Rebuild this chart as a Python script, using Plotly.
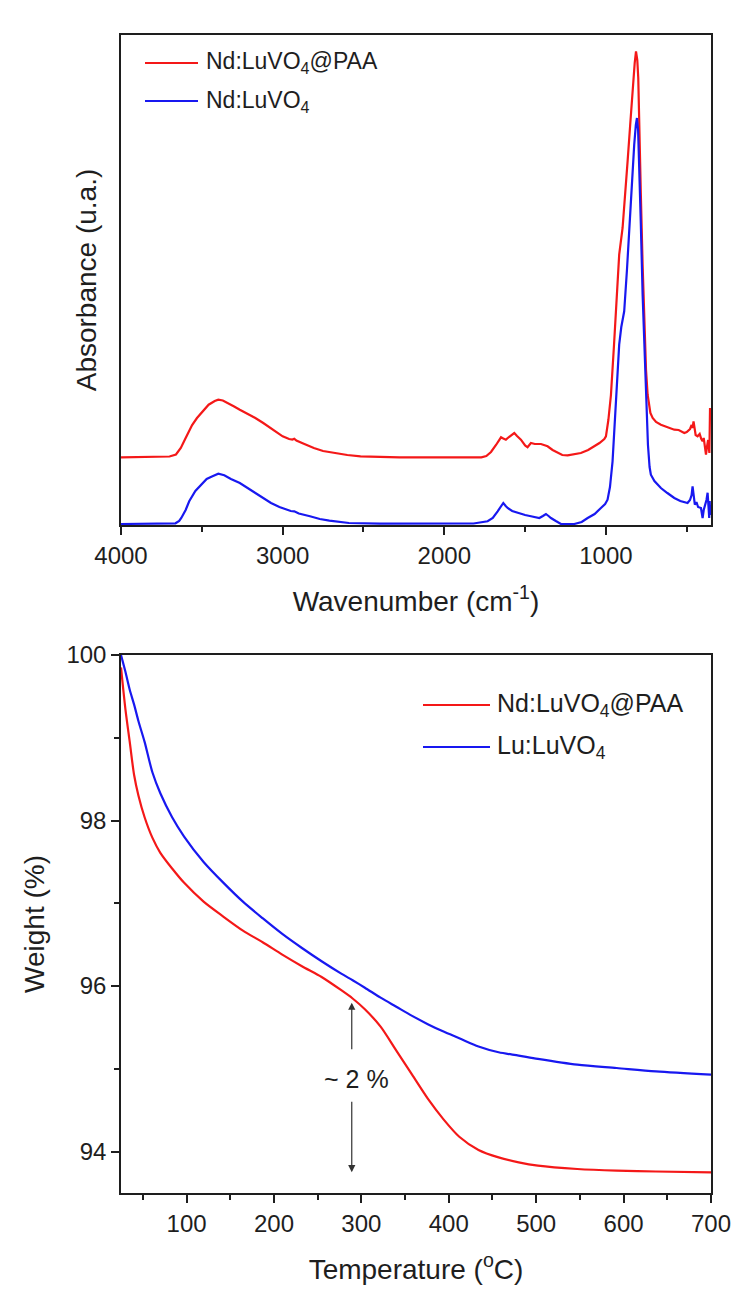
import plotly.graph_objects as go

# FTIR spectra (wavenumber in cm-1, absorbance in arbitrary units)
ftir_wn_paa = [4000, 3700, 3660, 3630, 3600, 3560, 3530, 3490, 3458, 3420, 3398, 3370, 3337, 3300, 3265,
               3220, 3169, 3120, 3072, 3030, 3000, 2960, 2940, 2928, 2915, 2880, 2840, 2807, 2750, 2687,
               2600, 2518, 2400, 2277, 2000, 1771, 1740, 1711, 1680, 1660, 1649, 1635, 1619, 1600, 1580,
               1567, 1550, 1526, 1500, 1485, 1464, 1440, 1402, 1380, 1361, 1330, 1299, 1270, 1237, 1200,
               1155, 1110, 1072, 1040, 1010, 1000, 985, 969, 950, 938, 918, 897, 880, 866, 850, 835, 822,
               814, 806, 800, 792, 784, 773, 763, 752, 742, 725, 711, 690, 660, 620, 577, 550, 530, 515,
               500, 480, 470, 464, 458, 454, 445, 433, 420, 410, 402, 395, 388, 381, 375, 368, 365, 360,
               356, 352]
ftir_abs_paa = [67.7, 68.5, 70.5, 77, 87, 100, 107, 115, 120.3, 124, 125.3, 124.5, 122, 118.5, 115.3,
                111.5, 107, 102, 97, 92, 88.7, 86, 85.5, 86.3, 84.5, 82, 79, 77, 74, 72,
                70, 68.7, 68, 67.7, 67.7, 67.7, 69, 73, 80, 85.5, 87.7, 86.5, 85.3, 88, 91,
                92, 89, 85.3, 79.5, 77.7, 82, 81, 81, 80, 78.7, 75, 72, 70, 69.7, 70.5,
                72, 75, 78.7, 82, 86, 88.7, 105, 130, 180, 213.7, 270.3, 297, 330, 363.7, 400, 437, 462,
                473.7, 465, 447, 400, 330.3, 260, 197, 155, 130.3, 112, 107, 103, 100.3, 98, 95.3, 95, 93.5, 92,
                93, 96, 100, 97, 103.7, 98, 90, 88.7, 91, 86, 83.7, 87, 79, 70.3, 78, 85, 80, 72,
                117, 105]

ftir_wn_bare = [4000, 3700, 3663, 3640, 3627, 3600, 3578, 3540, 3506, 3470, 3434, 3398, 3361, 3320, 3265,
                3220, 3169, 3120, 3072, 3020, 2976, 2950, 2928, 2900, 2831, 2770, 2711, 2650, 2590, 2398,
                2000, 1819, 1732, 1700, 1670, 1650, 1635, 1620, 1608, 1580, 1546, 1500, 1464, 1430, 1412,
                1390, 1371, 1355, 1340, 1310, 1278, 1196, 1150, 1113, 1070, 1031, 1005, 990, 975, 959,
                948, 938, 928, 918, 905, 887, 870, 856, 840, 825, 815, 808, 801, 794, 784, 773, 763, 753,
                740, 730, 722, 700, 680, 660, 620, 577, 540, 495, 480, 470, 464, 458, 450, 440, 430, 412,
                405, 402, 395, 385, 378, 371, 366, 361, 358, 355, 352]
ftir_abs_bare = [1, 1.5, 1.7, 4, 7, 15, 23.7, 34, 40.3, 46, 48.7, 51.3, 49.7, 46, 42,
                 37.5, 32, 27, 22, 18, 15.3, 14, 13.7, 11.5, 8.7, 6, 4.3, 3, 2, 1.3,
                 1.3, 1.5, 3.7, 7, 13.7, 19, 22, 19, 17, 14, 12, 10, 8.7, 7.5, 7,
                 9, 11, 9, 7, 4, 1, 1, 3, 7, 11, 17, 21, 25.3, 38, 63.7,
                 95, 130.3, 160, 180.3, 198, 213.7, 255, 297, 340, 380.3, 400, 407, 395, 363.7, 300, 230.3, 180, 130.3,
                 80, 58, 50.3, 44, 40, 37, 32, 27, 24, 22, 25, 30, 38.7, 28, 20.3, 23, 18, 17,
                 12, 7, 15, 20, 25, 32.3, 15, 7, 24, 10, 20]

# TGA curves (temperature in C, weight in %)
tga_temp = [25, 30, 35, 40, 45, 52, 61, 70, 83.5, 97, 119.5, 142, 164.5, 187, 209.5, 232, 254.5, 277,
            290, 304, 322, 340, 358, 376, 394, 412, 434, 457, 480, 502, 547, 592, 637, 700]
tga_weight_paa = [99.85, 99.35, 98.95, 98.55, 98.3, 98.04, 97.79, 97.61, 97.42, 97.25, 97.02, 96.84,
                  96.67, 96.53, 96.38, 96.24, 96.11, 95.95, 95.85, 95.72, 95.51, 95.22, 94.93, 94.64,
                  94.39, 94.18, 94.02, 93.93, 93.87, 93.83, 93.79, 93.77, 93.76, 93.75]
tga_weight_bare = [100.0, 99.8, 99.58, 99.4, 99.2, 98.95, 98.58, 98.33, 98.04, 97.81, 97.5, 97.25,
                   97.02, 96.82, 96.63, 96.46, 96.3, 96.15, 96.07, 95.98, 95.86, 95.75, 95.64, 95.54,
                   95.45, 95.37, 95.27, 95.2, 95.16, 95.12, 95.05, 95.01, 94.97, 94.93]

ftir_labels = ['Nd:LuVO<sub>4</sub>@PAA', 'Nd:LuVO<sub>4</sub>']
tga_labels = ['Nd:LuVO<sub>4</sub>@PAA', 'Lu:LuVO<sub>4</sub>']

# ~2 % step marker (temperature, upper tip, lower tip)
step_temp = 289
step_top, step_bottom = 95.8, 93.75

W, H = 755, 1291
FONT = 'Arial, "Liberation Sans", sans-serif'
RED = '#f41818'
BLUE = '#1818f0'
INK = '#1e1e1e'


def px(x):
    return x / W


def py(y):
    return 1 - y / H


fig = go.Figure()
fig.add_trace(go.Scatter(x=ftir_wn_paa, y=ftir_abs_paa, mode='lines', line=dict(color=RED, width=2.2),
                         xaxis='x', yaxis='y', showlegend=False))
fig.add_trace(go.Scatter(x=ftir_wn_bare, y=ftir_abs_bare, mode='lines', line=dict(color=BLUE, width=2.2),
                         xaxis='x', yaxis='y', showlegend=False))
fig.add_trace(go.Scatter(x=tga_temp, y=tga_weight_paa, mode='lines', line=dict(color=RED, width=2.2, shape='spline', smoothing=0.8),
                         xaxis='x2', yaxis='y2', showlegend=False))
fig.add_trace(go.Scatter(x=tga_temp, y=tga_weight_bare, mode='lines', line=dict(color=BLUE, width=2.2, shape='spline', smoothing=0.8),
                         xaxis='x2', yaxis='y2', showlegend=False))

axis_common = dict(showline=True, linecolor=INK, linewidth=1.5, mirror=True, showgrid=False, zeroline=False,
                   automargin=False, tickcolor=INK, tickwidth=1.5,
                   tickfont=dict(family=FONT, size=24, color=INK))
title_font = dict(family=FONT, size=28, color=INK)
xdom = [px(113), px(703)]

fig.update_layout(
    width=W, height=H,
    margin=dict(l=0, r=0, t=0, b=0),
    paper_bgcolor='white', plot_bgcolor='white',
    font=dict(family=FONT, color=INK),
    xaxis=dict(axis_common, domain=xdom, anchor='y', range=[4000, 350], tickvals=[4000, 3000, 2000, 1000],
               ticks='outside', ticklen=8,
               minor=dict(tickvals=[3500, 2500, 1500, 500], ticks='outside', ticklen=5, tickcolor=INK, tickwidth=1.5),
               title=dict(text='Wavenumber (cm<sup>-1</sup>)', font=title_font, standoff=24)),
    yaxis=dict(axis_common, domain=[py(517), py(27)], anchor='x', range=[0, 490], showticklabels=False, ticks='',
               title=dict(text='Absorbance (u.a.)', font=title_font, standoff=14)),
    xaxis2=dict(axis_common, domain=xdom, anchor='y2', range=[25, 700], tickvals=[100, 200, 300, 400, 500, 600, 700],
                ticks='outside', ticklen=8,
                minor=dict(tickvals=[50, 150, 250, 350, 450, 550, 650], ticks='outside', ticklen=5, tickcolor=INK, tickwidth=1.5),
                title=dict(text='Temperature (<sup>o</sup>C)', font=title_font, standoff=24)),
    yaxis2=dict(axis_common, domain=[py(1185), py(647)], anchor='x2', range=[93.5, 100], tickvals=[94, 96, 98, 100],
                ticks='outside', ticklen=8,
                minor=dict(tickvals=[95, 97, 99], ticks='outside', ticklen=5, tickcolor=INK, tickwidth=1.5),
                title=dict(text='Weight (%)', font=title_font, standoff=14)),
)

# hand-drawn legends, as in the original figure
legend_specs = [
    (ftir_labels, [RED, BLUE], 137, 190, 196, [55, 93], 23),
    (tga_labels, [RED, BLUE], 415, 482, 487, [697, 739], 25),
]
for labels, colors, x0, x1, xt, ys, size in legend_specs:
    for lab, col, yy in zip(labels, colors, ys):
        fig.add_shape(type='line', xref='paper', yref='paper', x0=px(x0), x1=px(x1), y0=py(yy), y1=py(yy),
                      line=dict(color=col, width=2.2))
        fig.add_annotation(xref='paper', yref='paper', x=px(xt), y=py(yy), text=lab, showarrow=False,
                           xanchor='left', yanchor='middle', font=dict(family=FONT, size=size, color=INK))

# ~2 % weight-loss arrows
fig.add_annotation(xref='x2', yref='y2', axref='x2', ayref='y2', x=step_temp, y=step_top, ax=step_temp, ay=95.22,
                   text='', showarrow=True, arrowhead=2, arrowsize=1.2, arrowwidth=1.2, arrowcolor='#333')
fig.add_annotation(xref='x2', yref='y2', axref='x2', ayref='y2', x=step_temp, y=step_bottom, ax=step_temp, ay=94.62,
                   text='', showarrow=True, arrowhead=2, arrowsize=1.2, arrowwidth=1.2, arrowcolor='#333')
fig.add_annotation(xref='x2', yref='y2', x=step_temp + 5, y=94.88, text='~ 2 %', showarrow=False,
                   font=dict(family=FONT, size=25, color=INK))

fig.write_html('out.html')
